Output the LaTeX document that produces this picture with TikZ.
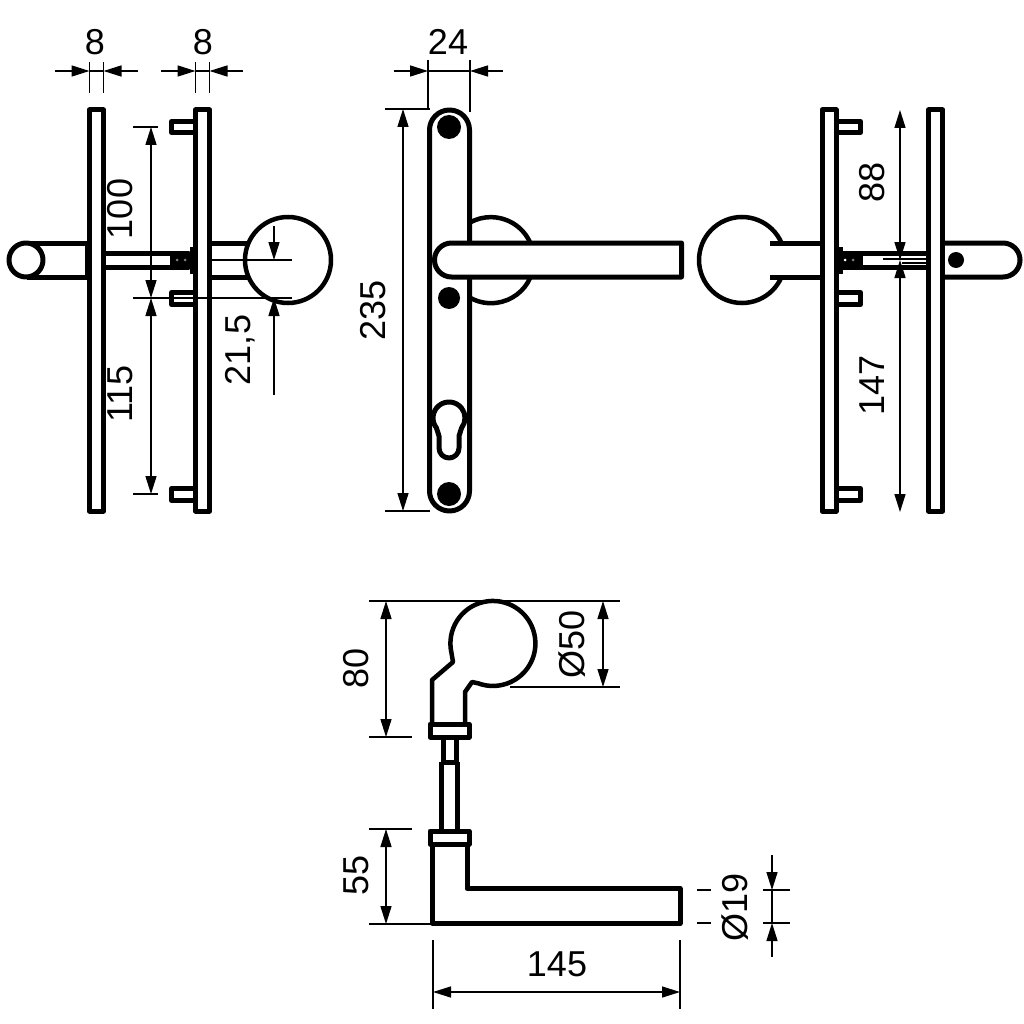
\documentclass[tikz,border=0pt]{standalone}
\usepackage{fontspec}
\setmainfont{Liberation Sans}
\usetikzlibrary{arrows.meta}
\tikzset{
	part/.style={line width=5pt,line join=round},
	knob/.style={line width=4.5pt},
	thin/.style={line width=1.5pt},
	dim/.style={line width=1.5pt,{Triangle[length=18pt,width=11pt]}-{Triangle[length=18pt,width=11pt]}},
	dimend/.style={line width=1.5pt,-{Triangle[length=18pt,width=11pt]}},
	lbl/.style={font=\fontsize{36}{36}\selectfont,inner sep=0pt},
	vlbl/.style={lbl,rotate=90},
	hole/.style={fill=black,draw=none}
}
\begin{document}
\begin{tikzpicture}[x=1pt,y=1pt,yscale=-1]
	\useasboundingbox (0,0) rectangle (1024,1024);
	% first side view
	\draw[part] (89.5,110) rectangle (103.5,511);
	\draw[part] (195.5,110) rectangle (209.5,511);
	\draw[part] (195,121.5) -- (171.5,121.5) -- (171.5,132.5) -- (195,132.5);
	\draw[part] (195,292.5) -- (171.5,292.5) -- (171.5,304.5) -- (195,304.5);
	\draw[part] (195,488.5) -- (171.5,488.5) -- (171.5,500.5) -- (195,500.5);
	\draw[part] (27,243) -- (87,243) (27,277) -- (87,277);
	\draw[part,fill=white] (26,260) circle (17);
	\draw[part] (87,243) -- (87,277);
	\draw[part] (104,253.5) -- (178,253.5) (104,267) -- (178,267);
	\draw[part,fill=black] (172,253.5) rectangle (188,267);
	\draw[part] (192,247) -- (192,274);
	\fill[gray] (177,260) circle (1.5) (185,260) circle (1.5);
	\draw[part] (212,243) -- (248,243) (212,277) -- (248,277);
	\draw[knob] (288,260) circle (43);
	% second side view
	\draw[part] (822,110) rectangle (836,511);
	\draw[part] (928.5,110) rectangle (942.5,511);
	\draw[part] (838,121.5) -- (860.5,121.5) -- (860.5,132.5) -- (838,132.5);
	\draw[part] (838,292.5) -- (860.5,292.5) -- (860.5,304.5) -- (838,304.5);
	\draw[part] (838,488.5) -- (860.5,488.5) -- (860.5,500.5) -- (838,500.5);
	\draw[knob] (781.6,243.2) arc[start angle=-23,end angle=-337,radius=43];
	\draw[part] (770,243) -- (820,243) (770,277) -- (820,277);
	\draw[part] (860,253.5) -- (926,253.5) (860,267) -- (926,267);
	\draw[part,fill=black] (842,253.5) rectangle (860,267);
	\draw[part] (840,247) -- (840,274);
	\fill[white] (845,260) circle (1.5);
	\fill[gray] (853,260) circle (1.5);
	\draw[part] (945,243) -- (1003,243) arc[start angle=-90,end angle=90,radius=17] -- (945,277);
	\fill[hole] (956,260) circle (8);
	% front view
	\draw[knob] (470,222.5) arc[start angle=-119,end angle=-23,radius=43];
	\draw[knob] (530.6,277) arc[start angle=23,end angle=119,radius=43];
	\draw[part] (429.5,130) arc[start angle=180,end angle=360,radius=20] -- (469.5,491) arc[start angle=0,end angle=180,radius=20] -- cycle;
	\fill[hole] (449,127) circle (12);
	\fill[hole] (449,298) circle (11);
	\fill[hole] (449,494) circle (12);
	\draw[part,fill=white] (681.5,243) -- (451.5,243) arc[start angle=-90,end angle=-270,radius=17] -- (681.5,277) -- cycle;
	\draw[part,fill=white] (439,436) -- (436.4,427.85) arc[start angle=142,end angle=398,radius=16] -- (459,436) -- (459,448) arc[start angle=0,end angle=180,radius=10] -- cycle;
	% end view
	\draw[thin] (369,601) -- (620,601);
	\draw[thin] (510,687) -- (620,687);
	\draw[knob,line join=round,fill=white] (432,722) -- (432,680) -- (453,662) -- (451.5,653)
		arc[start angle=167,end angle=470,radius=42.5] -- (472,682) -- (465,692) -- (465,722);
	\draw[part] (430,724) rectangle (469,737);
	\draw[part] (443.5,737) -- (443.5,762) (456,737) -- (456,762);
	\draw[part] (441.5,762) -- (457.5,762);
	\draw[part] (441.5,762) -- (441.5,829) (457.5,762) -- (457.5,829);
	\draw[part] (430,831) rectangle (469,844);
	\draw[part] (432.5,844) -- (432.5,923.5) -- (680,923.5) -- (680,888.5) -- (467,888.5) -- (467,844);
	% dimensions
	\draw[thin] (89.5,62) -- (89.5,93) (103.5,62) -- (103.5,93) (89.5,71) -- (103.5,71);
	\draw[dimend] (55,71) -- (89.5,71);
	\draw[dimend] (138,71) -- (103.5,71);
	\node[lbl] (lblA) at (95,42) {8};
	\draw[thin] (195.5,62) -- (195.5,93) (209.5,62) -- (209.5,93) (195.5,71) -- (209.5,71);
	\draw[dimend] (161,71) -- (195.5,71);
	\draw[dimend] (243,71) -- (209.5,71);
	\node[lbl] (lblB) at (203,42) {8};
	\draw[thin] (428,60) -- (428,110) (470,60) -- (470,112) (428,71) -- (470,71);
	\draw[dimend] (394,71) -- (428,71);
	\draw[dimend] (503,71) -- (470,71);
	\node[lbl] (lblC) at (448,42) {24};
	\draw[thin] (133,127) -- (158,127) (133,298) -- (292,298) (133,494) -- (158,494);
	\draw[dim] (151,127) -- (151,298);
	\draw[dim] (151,298) -- (151,494);
	\node[vlbl] (lblD) at (120,209) {100};
	\node[vlbl] (lblE) at (120,394) {115};
	\draw[thin] (212,260) -- (292,260);
	\draw[dimend] (274,226) -- (274,260);
	\draw[dimend] (274,395) -- (274,298);
	\node[vlbl] (lblF) at (240,350) {21,5};
	\draw[thin] (385,109) -- (430,109) (385,511) -- (430,511);
	\draw[dim] (403,109) -- (403,511);
	\node[vlbl] (lblG) at (373,310) {235};
	\draw[thin] (883,259) -- (926,259) (902,263) -- (926,263);
	\draw[dim] (900,110) -- (900,260);
	\draw[dim] (900,260) -- (900,512);
	\node[vlbl] (lblH) at (872,182) {88};
	\node[vlbl] (lblI) at (872,385) {147};
	\draw[dim] (386,601) -- (386,737);
	\draw[thin] (369,737) -- (412,737);
	\node[vlbl] (lblJ) at (356,668) {80};
	\draw[dim] (603,601) -- (603,687);
	\node[vlbl] (lblK) at (572,644) {Ø50};
	\draw[thin] (369,829) -- (412,829) (369,924) -- (432,924);
	\draw[dim] (386,829) -- (386,924);
	\node[vlbl] (lblL) at (356,875) {55};
	\draw[thin] (433,940) -- (433,1009) (680,940) -- (680,1009);
	\draw[dim] (433,992) -- (680,992);
	\node[lbl] (lblM) at (557,964) {145};
	\draw[thin] (697,890) -- (711,890) (697,923) -- (711,923) (763,890) -- (790,890) (763,923) -- (790,923);
	\draw[thin] (772,890) -- (772,923);
	\draw[dimend] (772,855) -- (772,890);
	\draw[dimend] (772,957) -- (772,923);
	\node[vlbl] (lblN) at (735,907) {Ø19};
\end{tikzpicture}
\end{document}
